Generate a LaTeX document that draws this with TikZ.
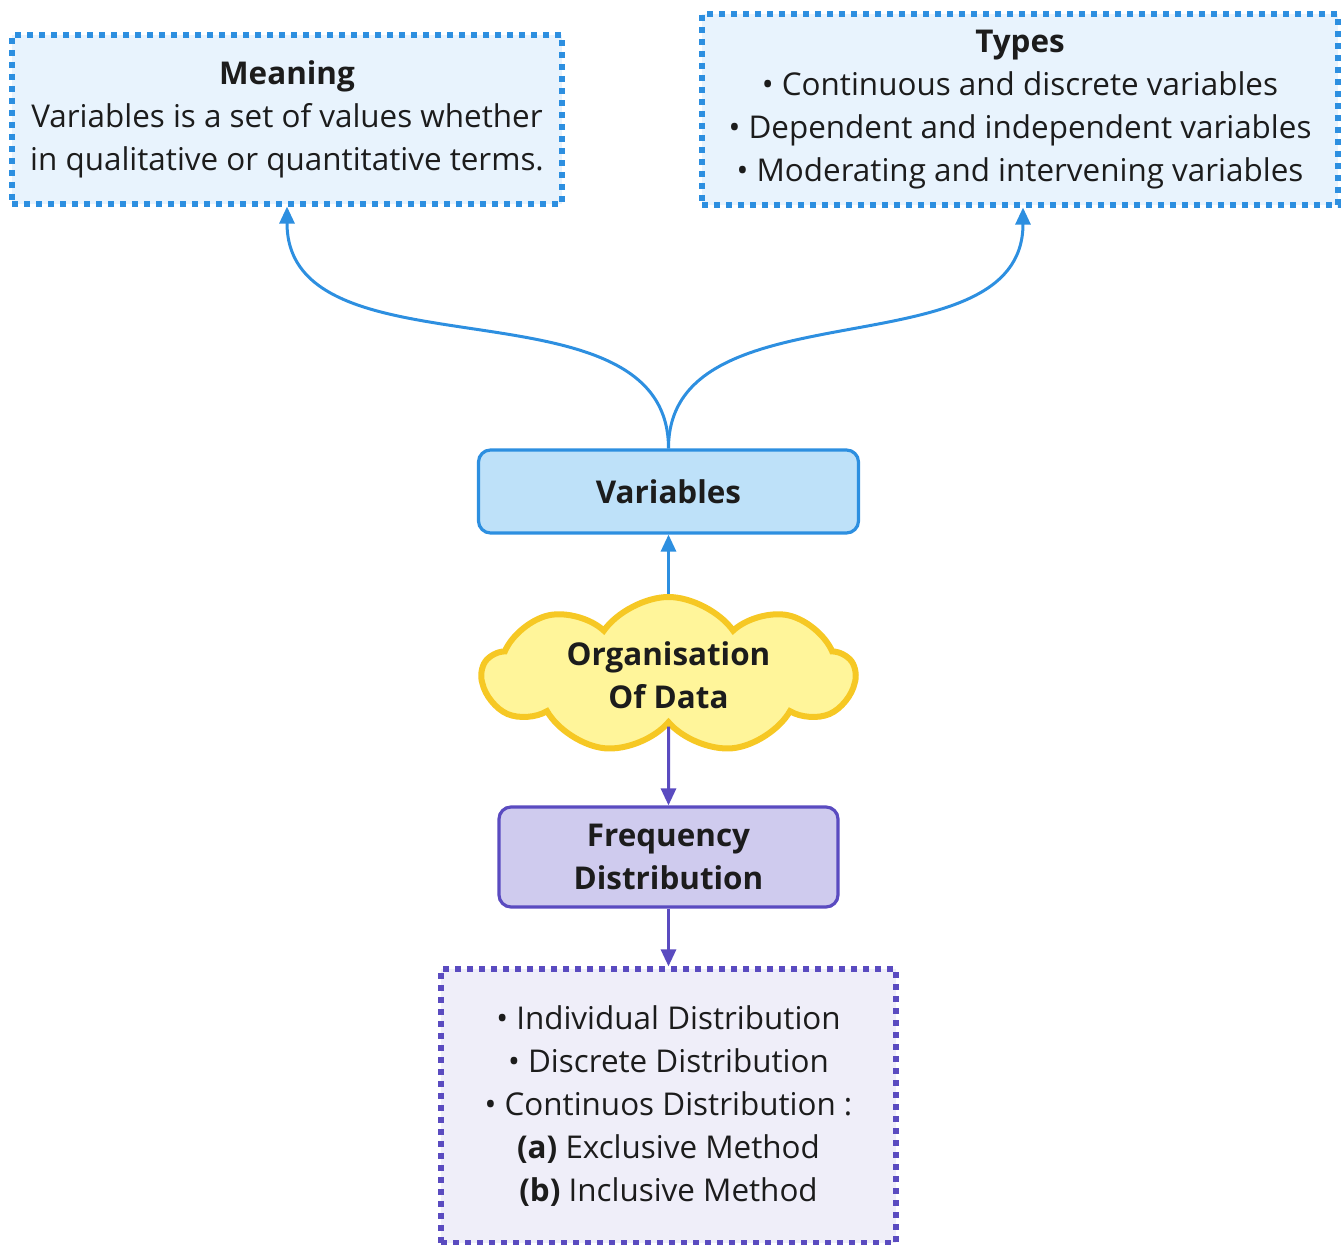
\documentclass[tikz,border=0pt]{standalone}
\usepackage{fontspec}
\setmainfont{Open Sans}
\usepackage{xcolor}
\usepackage{tikz}
\usetikzlibrary{arrows.meta, positioning, shapes.symbols}

\definecolor{lineblue}{RGB}{45,143,224}
\definecolor{boxblue}{RGB}{232,243,253}
\definecolor{varblue}{RGB}{190,225,249}
\definecolor{cloudfill}{RGB}{255,245,154}
\definecolor{cloudgold}{RGB}{246,200,36}
\definecolor{linepurple}{RGB}{90,75,192}
\definecolor{freqfill}{RGB}{207,203,238}
\definecolor{listfill}{RGB}{239,238,249}
\definecolor{ink}{RGB}{28,28,28}

\begin{document}
\begin{tikzpicture}[x=0.5pt, y=-0.5pt,
    every node/.style={text=ink, font=\fontsize{15.7}{21.5}\selectfont, align=center},
    dotbox/.style={draw, line width=2.6pt, dash pattern=on 3pt off 3pt, inner sep=0pt},
    roundbox/.style={draw, line width=1.6pt, rounded corners=6pt, inner sep=0pt},
    arr/.style={line width=1.5pt, -{Triangle[width=7.5pt, length=8.5pt]}}]
  \useasboundingbox (0,0) rectangle (1341,1245);

  % Meaning
  \node[dotbox, draw=lineblue, fill=boxblue, minimum width=275pt, minimum height=84.5pt]
    (meaning) at (287,119.5)
    {\textbf{Meaning}\\Variables is a set of values whether\\in qualitative or quantitative terms.};

  % Types
  \node[dotbox, draw=lineblue, fill=boxblue, minimum width=318pt, minimum height=95.5pt]
    (types) at (1020,109.5)
    {\textbf{Types}\\• Continuous and discrete variables\\• Dependent and independent variables\\• Moderating and intervening variables};

  % Variables
  \node[roundbox, draw=lineblue, fill=varblue, minimum width=190pt, minimum height=41.5pt]
    (variables) at (668.5,491.5) {\textbf{Variables}};

  % Organisation of data
  \node[cloud, cloud puffs=9, cloud puff arc=110, cloud ignores aspect, draw=cloudgold,
    fill=cloudfill, line width=3pt, minimum width=186pt, minimum height=78pt, inner sep=0pt]
    (organisation) at (668.5,675) {\textbf{Organisation}\\\textbf{Of Data}};

  % Frequency distribution
  \node[roundbox, draw=linepurple, fill=freqfill, minimum width=169.5pt, minimum height=50pt]
    (frequency) at (668.5,857) {\textbf{Frequency}\\\textbf{Distribution}};

  % Kinds of distribution
  \node[dotbox, draw=linepurple, fill=listfill, minimum width=227.5pt, minimum height=137pt]
    (kinds) at (668.5,1106)
    {• Individual Distribution\\• Discrete Distribution\\• Continuos Distribution :\\\textbf{(a)} Exclusive Method\\\textbf{(b)} Inclusive Method};

  % connectors
  \draw[arr, lineblue] (variables.north) to[out=90, in=-90] (meaning.south);
  \draw[arr, lineblue] (variables.north) to[out=90, in=-90] ([xshift=1.5pt]types.south);
  \draw[arr, lineblue] (organisation.north) -- (variables.south);
  \draw[arr, linepurple] (organisation.south) -- (frequency.north);
  \draw[arr, linepurple] (frequency.south) -- (kinds.north);
\end{tikzpicture}
\end{document}
